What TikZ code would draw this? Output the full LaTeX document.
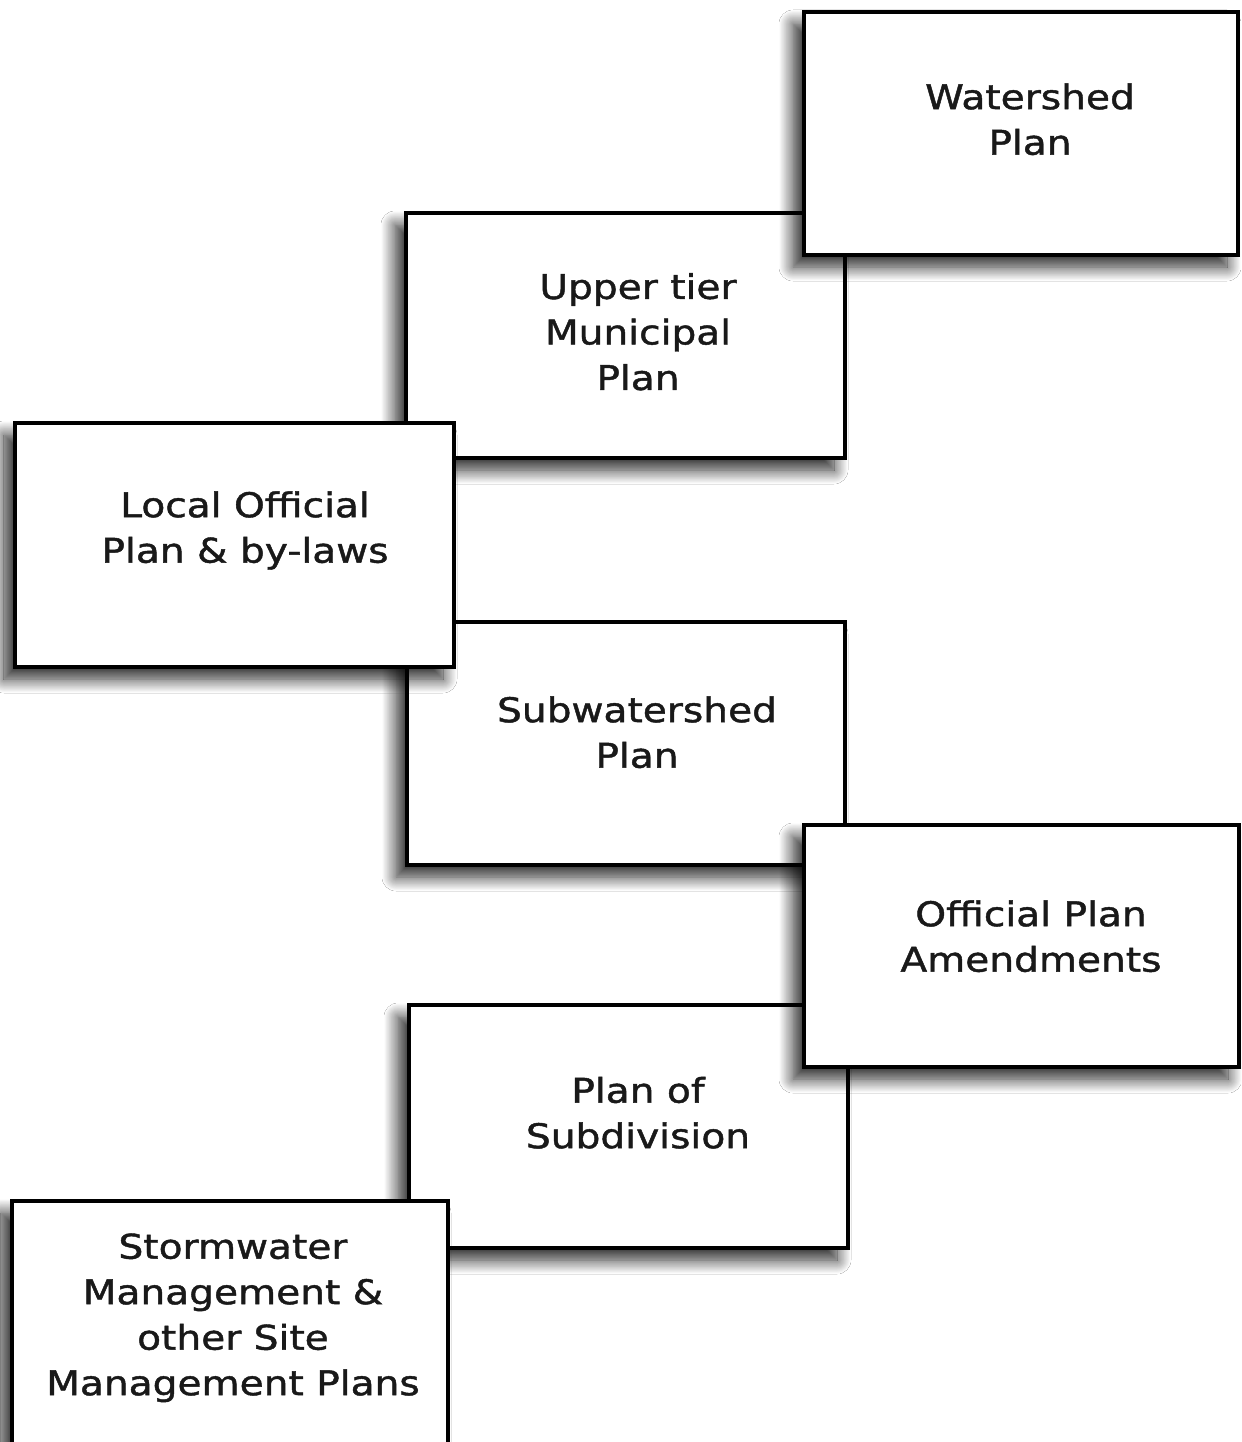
\documentclass[tikz,border=0pt]{standalone}
\usepackage{fontspec}
\setmainfont{DejaVu Sans}[FakeStretch=1.15,FakeBold=1.3]
\usetikzlibrary{shadows.blur}
\begin{document}
\begin{tikzpicture}[x=1bp,y=-1bp,
  plan/.style={draw=black, line width=4.5bp, fill=white, inner sep=0pt,
    blur shadow={shadow xshift=-11bp, shadow yshift=-12bp, shadow blur radius=14bp,
      shadow blur steps=16, shadow opacity=85}},
  lbl/.style={align=center, inner sep=0pt, text=black!90,
    font=\fontsize{34bp}{45.5bp}\selectfont}
]
\useasboundingbox[fill=white] (0,0) rectangle (1241,1442);
% lower layer (middle column)
\node[plan, minimum width=439bp, minimum height=245bp] (ut) at (625.5,335.5) {};
\node[plan, minimum width=438bp, minimum height=243bp] (sw) at (626,743.5) {};
\node[plan, minimum width=439bp, minimum height=243bp] (sd) at (628.5,1126.5) {};
% upper layer
\node[plan, minimum width=434bp, minimum height=243bp] (ws) at (1021,133.5) {};
\node[plan, minimum width=439bp, minimum height=244bp] (lo) at (234.5,545) {};
\node[plan, minimum width=435bp, minimum height=242bp] (opa) at (1021.5,946) {};
\node[plan, minimum width=436bp, minimum height=243bp] (st) at (230,1322.5) {};
% texts
\node[lbl] (ws-t) at (1030,122.8) {\strut Watershed\\\strut Plan};
\node[lbl] (ut-t) at (638,335.3) {\strut Upper tier\\\strut Municipal\\\strut Plan};
\node[lbl] (lo-t) at (245,530.8) {\strut Local Official\\\strut Plan \& by-laws};
\node[lbl] (sw-t) at (637,735.8) {\strut Subwatershed\\\strut Plan};
\node[lbl] (opa-t) at (1031,939.8) {\strut Official Plan\\\strut Amendments};
\node[lbl] (sd-t) at (638,1116.3) {\strut Plan of\\\strut Subdivision};
\node[lbl] (st-t) at (233,1317.8) {\strut Stormwater\\\strut Management \&\\\strut other Site\\\strut Management Plans};
\end{tikzpicture}
\end{document}
